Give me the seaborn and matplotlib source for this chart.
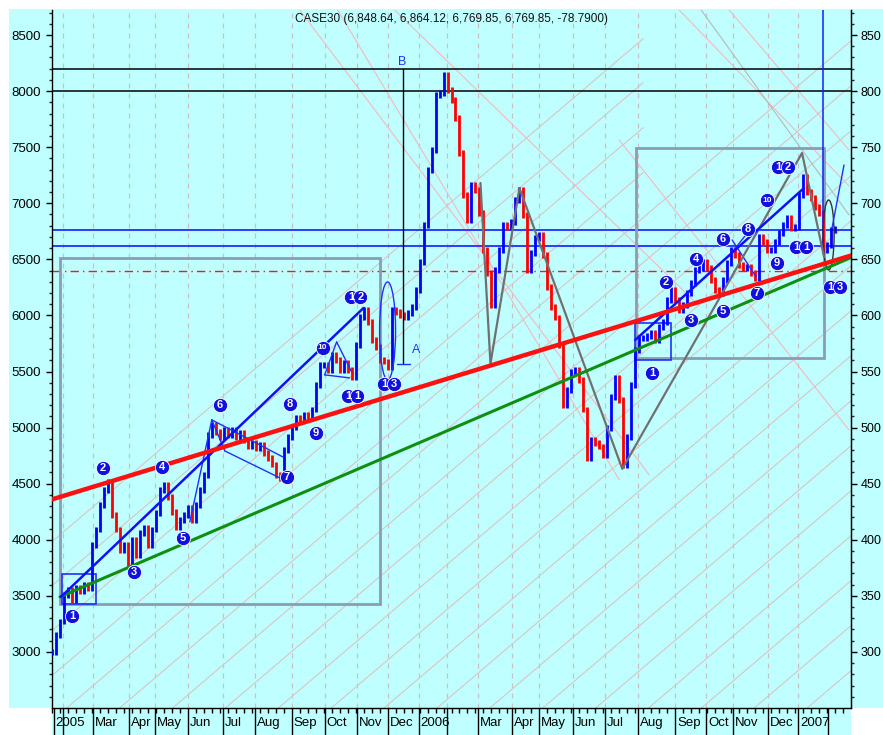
import numpy as np
import pandas as pd
import matplotlib
matplotlib.use('Agg')
import matplotlib.pyplot as plt
from matplotlib.patches import Rectangle, Ellipse
import seaborn as sns

sns.set_style('white')
plt.rcParams['font.family'] = ['Liberation Sans Narrow', 'Liberation Sans', 'DejaVu Sans']

# ---- data (x = trading-bar index, y = index level) ----
closes = [3000, 3150, 3270, 3510, 3550, 3460, 3570, 3540, 3600, 3570,
          3955, 4090, 4310, 4445, 4515, 4220, 4090, 3910, 3955, 3760,
          4000, 3865, 4060, 4105, 3955, 4090, 4240, 4445, 4490, 4380,
          4250, 4115, 4175, 4220, 4285, 4175, 4310, 4445, 4580, 4935,
          5025, 4960, 4910, 4980, 4935, 4980, 4910, 4955, 4890, 4830,
          4865, 4820, 4845, 4775, 4730, 4670, 4580, 4550, 4800, 4915,
          5005, 5085, 5070, 5115, 5085, 5160, 5380, 5560, 5560, 5515,
          5650, 5605, 5515, 5575, 5515, 5450, 5735, 5985, 6050, 5940,
          5780, 5720, 5605, 5590, 5540, 6050, 6030, 6005, 5980, 6020,
          6075, 6225, 6475, 6805, 7295, 7475, 7965, 7985, 8145, 8010,
          7920, 7760, 7450, 7075, 6850, 7165, 7120, 6915, 6585, 6380,
          6095, 6405, 6585, 6805, 6790, 6835, 7030, 7120, 6895, 6405,
          6555, 6690, 6720, 6540, 6255, 6075, 5980, 5735, 5200, 5335,
          5495, 5515, 5425, 5160, 4730, 4890, 4865, 4830, 4755, 4995,
          5275, 5445, 5245, 4665, 4915, 5380, 5690, 5800, 5800, 5815,
          5845, 5780, 5895, 5940, 6140, 6225, 6140, 6050, 6095, 6200,
          6290, 6405, 6425, 6475, 6425, 6315, 6225, 6200, 6315, 6470,
          6585, 6540, 6450, 6425, 6435, 6380, 6335, 6700, 6655, 6585,
          6585, 6655, 6735, 6805, 6870, 6780, 6790, 7075, 7235, 7100,
          7045, 6965, 6915, 6585, 6630, 6760, 6770]

month_pos = [0.5, 2.75, 10.25, 19.25, 25.75, 34, 42.75, 50.75, 60, 68.25, 76.25, 84,
             91.75, 98.75, 106.75, 115.25, 122, 130.5, 138.5, 146.75, 156, 163.75,
             170.5, 179.25, 186.75, 194.25]
month_labels = ['2005', '', 'Mar', 'Apr', 'May', 'Jun', 'Jul', 'Aug', 'Sep', 'Oct', 'Nov', 'Dec',
                '2006', '', 'Mar', 'Apr', 'May', 'Jun', 'Jul', 'Aug', 'Sep', 'Oct', 'Nov', 'Dec',
                '2007', '']
grid_pos = month_pos[1:-1]

y_ticks = [3000, 3500, 4000, 4500, 5000, 5500, 6000, 6500, 7000, 7500, 8000, 8500]
left_labels = ['3000', '3500', '4000', '4500', '5000', '5500', '6000', '6500', '7000', '7500', '8000', '8500']
# right-hand scale is cut by the window edge in the original
right_labels = ['300', '350', '400', '450', '500', '550', '600', '650', '700', '750', '800', '850']

red_trend_x, red_trend_y = [0, 200], [4360, 6534]
green_trend_x, green_trend_y = [2, 199.75], [3491, 6512]
blue_trend1_x, blue_trend1_y = [2.25, 78], [3491, 6067]
blue_trend2_x, blue_trend2_y = [146, 188.25], [5782, 7136]
zigzag_x = [107.25, 109.75, 117, 142.75, 187.75, 193.25]
zigzag_y = [7181, 5568, 7136, 4632, 7448, 6521]

black_levels = [8197, 8004]
blue_levels = [6762, 6622]
red_level = 6397

gray_boxes = [(2, 3429, 82, 6512), (146.25, 5621, 193.25, 7493)]
blue_boxes = [(2.5, 3429, 11, 3696), (146, 5603, 155, 5933)]

thin_blue_segs = [(34.5, 4159, 40, 5069), (40, 5069, 57.75, 4739), (40, 5069, 43.25, 4792),
                  (43.25, 4792, 57, 4552), (68.25, 5470, 71.25, 5764), (71.25, 5764, 75, 5496),
                  (68.25, 5470, 74.5, 5443), (170.25, 6673, 176.25, 6343),
                  (169.5, 6530, 175.25, 6789), (195.25, 6780, 198.25, 7341)]

asc_v0 = [3983, 3591, 3190, 2789, 2388, 1987, 1586, 1185, 783, 382, -19, -420,
          -821, -1222, -1623, -2024, -2425, -2826, -3227]
asc_end = [148, 148, 148, 148, 200, 200, 200, 200, 200, 200, 200, 200,
           200, 200, 200, 200, 200, 200, 200]
asc_slope = 30.3

desc_pink = [(62, 8723, 149.5, 4578), (71.5, 8723, 142, 4534), (85.75, 8723, 162, 6085),
             (157, 8723, 199.5, 7154), (169.5, 8723, 199.5, 7475), (142, 7564, 199.5, 4979)]
desc_gray = [(162.5, 8723, 199.5, 6896)]

wave_txt = ['1', '2', '3', '4', '5', '6', '7', '8', '9', '10', '11', '12', '13']
wave_left_x = [5.0, 12.75, 20.5, 27.5, 32.75, 42, 58.75, 59.5, 66, 67.75, 75.25, 76, 84.4]
wave_left_y = [3322, 4641, 3714, 4650, 4017, 5202, 4560, 5211, 4953, 5710, 5282, 6165, 5389]
wave_right_x = [150.25, 153.75, 160, 161.25, 168, 168, 176.5, 174.25, 181.5, 179, 187.5, 183, 196]
wave_right_y = [5487, 6299, 5960, 6503, 6040, 6682, 6200, 6771, 6468, 7029, 6610, 7324, 6254]

title = 'CASE30 (6,848.64, 6,864.12, 6,769.85, 6,769.85, -78.7900)'

CYAN = '#C0FFFF'

# ---- figure ----
fig = plt.figure(figsize=(8.83, 7.35), dpi=100)
fig.patch.set_facecolor('white')
fig.patches.append(Rectangle((9 / 883, 27 / 735), 1, 699 / 735, transform=fig.transFigure,
                             facecolor=CYAN, edgecolor='none', zorder=-10))
fig.patches.append(Rectangle((52 / 883, 0), 799 / 883, 27 / 735, transform=fig.transFigure,
                             facecolor=CYAN, edgecolor='none', zorder=-10))
ax = fig.add_axes([52 / 883, 27 / 735, 799 / 883, 698 / 735])
ax.set_facecolor(CYAN)
ax.set_xlim(0, 200)
ax.set_ylim(2500, 8723)

# grid
for gx in grid_pos:
    ax.axvline(gx, color='#c4c4c4', lw=0.9, ls=(0, (4, 4)), zorder=1)

# light fan / channel lines
for v0, xe in zip(asc_v0, asc_end):
    ax.plot([0, xe], [v0, v0 + asc_slope * xe], color='#d6c6c6', lw=0.8, zorder=1.5)
for x0, y0, x1, y1 in desc_pink:
    ax.plot([x0, x1], [y0, y1], color='#f4b8c0', lw=0.8, zorder=1.5)
for x0, y0, x1, y1 in desc_gray:
    ax.plot([x0, x1], [y0, y1], color='#b8b8b8', lw=0.8, zorder=1.5)

# horizontal levels
for lv in black_levels:
    ax.axhline(lv, color='black', lw=1.1, zorder=2)
for lv in blue_levels:
    ax.axhline(lv, color='#2a3cff', lw=1.4, zorder=2)
ax.axhline(red_level, color='#ee1c1c', lw=1.0, ls=(0, (6, 3, 1, 3)), zorder=2)

# boxes
for x0, y0, x1, y1 in gray_boxes:
    ax.add_patch(Rectangle((x0, y0), x1 - x0, y1 - y0, fill=False, edgecolor='#8a9db4', lw=2.0, zorder=2.5))
for x0, y0, x1, y1 in blue_boxes:
    ax.add_patch(Rectangle((x0, y0), x1 - x0, y1 - y0, fill=False, edgecolor='#2030ff', lw=1.2, zorder=2.5))

# price bars
df = pd.DataFrame({'day': np.arange(len(closes)), 'close': closes})
df['prev'] = df['close'].shift(1).fillna(df['close'])
df['lo'] = df[['prev', 'close']].min(axis=1) - 25
df['hi'] = df[['prev', 'close']].max(axis=1) + 25
df['col'] = np.where(df['close'] >= df['prev'], '#0000ff', '#ff0000')
ax.vlines(df['day'], df['lo'], df['hi'], colors=df['col'], lw=2.0, zorder=3)

# annotations: vertical lines, A / B
ax.plot([87.75, 87.75], [5568, 8197], color='black', lw=1.0, zorder=3.5)
ax.plot([86.25, 89.5], [5568, 5568], color='#2030ff', lw=1.0, zorder=3.5)
ax.text(90.0, 5690, 'A', color='#2030ff', fontsize=9, ha='left', va='center', zorder=6)
ax.text(87.75, 8262, 'B', color='#2030ff', fontsize=9, ha='center', va='center', zorder=6)
ax.plot([193, 193], [6560, 8723], color='#1020ff', lw=1.1, zorder=3.5)
ax.add_patch(Ellipse((84, 5862), 4, 873, fill=False, edgecolor='#2030ff', lw=1.0, zorder=3.5))
ax.add_patch(Ellipse((194.4, 6717), 2.75, 624, fill=False, edgecolor='#333333', lw=1.0, zorder=3.5))

for x0, y0, x1, y1 in thin_blue_segs:
    ax.plot([x0, x1], [y0, y1], color='#2030ff', lw=1.0, zorder=3.5)

# trend lines
sns.lineplot(x=zigzag_x, y=zigzag_y, color='#707070', lw=1.6, ax=ax, sort=False, zorder=4)
sns.lineplot(x=green_trend_x, y=green_trend_y, color='#0f8f0f', lw=2.2, ax=ax, zorder=4)
sns.lineplot(x=red_trend_x, y=red_trend_y, color='#ff1010', lw=3.2, ax=ax, zorder=4.2)
sns.lineplot(x=blue_trend1_x, y=blue_trend1_y, color='#1010ff', lw=1.8, ax=ax, zorder=4.1)
sns.lineplot(x=blue_trend2_x, y=blue_trend2_y, color='#1010ff', lw=1.8, ax=ax, zorder=4.1)

# wave count markers
def wave_marks(xs, ys):
    for t, x, y in zip(wave_txt, xs, ys):
        if len(t) == 2 and t != '10':
            parts = [(x - 1.2, t[0]), (x + 1.2, t[1])]
        else:
            parts = [(x, t)]
        for px, ch in parts:
            sns.scatterplot(x=[px], y=[y], s=105, color='#1010e0', edgecolor='white',
                            linewidth=0.6, ax=ax, zorder=7, legend=False)
            ax.text(px, y, ch, color='white', fontsize=8 if len(ch) == 1 else 6,
                    fontweight='bold', ha='center', va='center', zorder=8)

wave_marks(wave_left_x, wave_left_y)
wave_marks(wave_right_x, wave_right_y)

ax.text(0.4994, 0.9870, title, transform=ax.transAxes, ha='center', va='center',
        fontsize=8.5, color='#111111', zorder=9)

# axes styling
ax.set_xlabel('')
ax.set_ylabel('')
ax.spines['top'].set_visible(False)
for s in ['left', 'right', 'bottom']:
    ax.spines[s].set_color('black')
    ax.spines[s].set_linewidth(1.0)

ax.set_yticks(y_ticks)
ax.set_yticklabels(left_labels)
ax.set_yticks(np.arange(2600, 8800, 100), minor=True)
ax.tick_params(axis='y', which='major', length=4, width=1, pad=4, labelsize=9.5, colors='black', left=True)
ax.tick_params(axis='y', which='minor', length=2.2, width=1, left=True)

ax.set_xticks(month_pos)
ax.set_xticklabels([''] * len(month_pos))
ax.set_xticks(np.arange(0, 200, 2), minor=True)
ax.tick_params(axis='x', which='major', length=19.5, width=1, colors='black', bottom=True)
ax.tick_params(axis='x', which='minor', length=3.5, width=1, colors='black', bottom=True)
for p, lab in zip(month_pos, month_labels):
    if lab:
        ax.text(p + 0.45, -0.021, lab, transform=ax.get_xaxis_transform(), ha='left', va='center',
                fontsize=9.5, color='black')

ax2 = ax.twinx()
ax2.set_ylim(ax.get_ylim())
ax2.set_yticks(y_ticks)
ax2.set_yticklabels(right_labels)
ax2.set_yticks(np.arange(2600, 8800, 100), minor=True)
ax2.tick_params(axis='y', which='major', length=4, width=1, pad=3, labelsize=9, colors='black', right=True)
ax2.tick_params(axis='y', which='minor', length=2.2, width=1, right=True)
ax2.spines['top'].set_visible(False)
ax2.spines['left'].set_visible(False)
ax2.spines['bottom'].set_visible(False)
ax2.spines['right'].set_color('black')

fig.savefig('out.png', dpi=100, facecolor=fig.get_facecolor())
